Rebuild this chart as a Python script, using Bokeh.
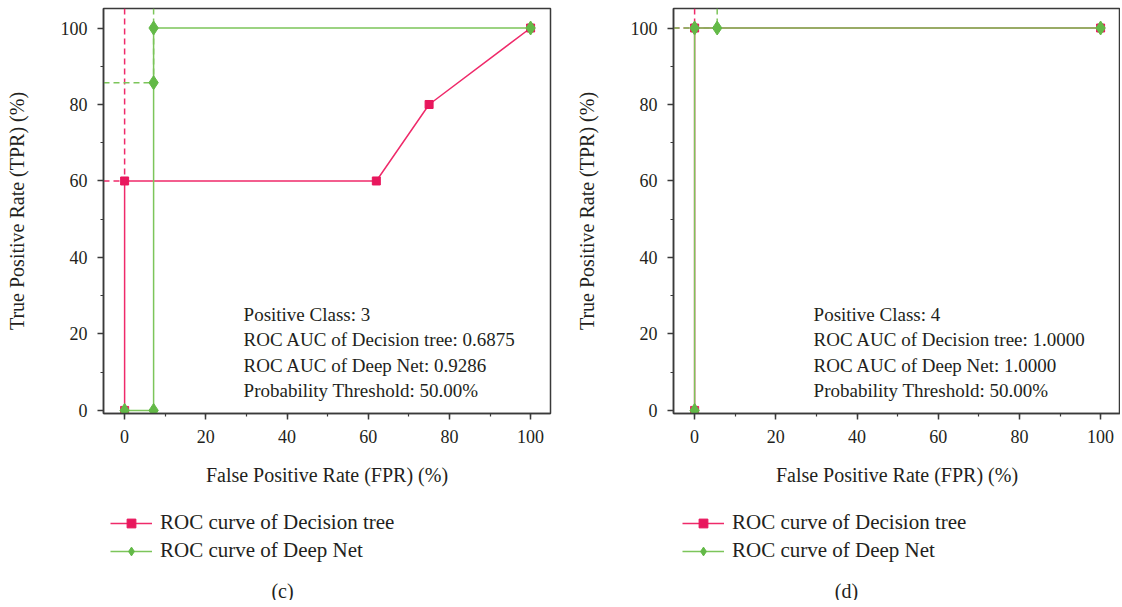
from bokeh.plotting import figure
from bokeh.layouts import row, column
from bokeh.models import Range1d, SingleIntervalTicker, Legend, LegendItem, Label
from bokeh.embed import file_html
from bokeh.resources import INLINE

# ---------------- data ----------------
# panel (c)
c_dt_fpr = [0, 0, 62, 75, 100]
c_dt_tpr = [0, 60, 60, 80, 100]
c_dn_fpr = [0, 7.14, 7.14, 7.14, 100]
c_dn_tpr = [0, 0, 85.71, 100, 100]
c_thr_dt = (0, 60)        # threshold point, Decision tree
c_thr_dn = (7.14, 85.71)  # threshold point, Deep Net
c_text = ["Positive Class: 3",
          "ROC AUC of Decision tree: 0.6875",
          "ROC AUC of Deep Net: 0.9286",
          "Probability Threshold: 50.00%"]

# panel (d)
d_dt_fpr = [0, 0, 100]
d_dt_tpr = [0, 100, 100]
d_dn_fpr = [0, 0, 5.56, 100]
d_dn_tpr = [0, 100, 100, 100]
d_thr_dt = (0, 100)
d_thr_dn = (5.56, 100)
d_text = ["Positive Class: 4",
          "ROC AUC of Decision tree: 1.0000",
          "ROC AUC of Deep Net: 1.0000",
          "Probability Threshold: 50.00%"]

x_label = "False Positive Rate (FPR) (%)"
y_label = "True Positive Rate (TPR) (%)"
legend_labels = ["ROC curve of Decision tree", "ROC curve of Deep Net"]

# ---------------- style ----------------
FONT = "Liberation Serif"
TXT = "#231f20"
AX = "#3a3a3a"
PINK = "#ef2a6a"
PINK_M = "#e8175d"
GREEN = "#7cc55a"
GREEN_M = "#63b947"
X0, X1 = -5.2, 104.9
Y0, Y1 = -0.8, 105.1
LW = 1.5


def line_kw(color):
    return dict(line_color=color, line_width=LW)


def make_panel(dt_fpr, dt_tpr, dn_fpr, dn_tpr, thr_dt, thr_dn, text, caption,
               width, border_left, border_right, legend_x, caption_x):
    p = figure(width=width, height=493, output_backend="svg", toolbar_location=None,
               x_range=Range1d(X0, X1), y_range=Range1d(Y0, Y1),
               min_border_left=border_left, min_border_right=border_right,
               min_border_top=8, min_border_bottom=80)
    p.grid.visible = False
    p.outline_line_color = AX
    p.outline_line_width = LW
    p.outline_line_alpha = 1

    for ax in (p.xaxis[0], p.yaxis[0]):
        ax.ticker = SingleIntervalTicker(interval=20, num_minor_ticks=2)
        ax.axis_line_color = AX
        ax.axis_line_width = LW
        ax.major_tick_line_color = AX
        ax.major_tick_line_width = LW
        ax.minor_tick_line_color = AX
        ax.minor_tick_line_width = 1.2
        ax.major_tick_in = 0
        ax.major_tick_out = 6
        ax.minor_tick_in = 0
        ax.minor_tick_out = 3
        ax.major_label_text_font = FONT
        ax.major_label_text_font_size = "18px"
        ax.major_label_text_color = TXT
        ax.axis_label_text_font = FONT
        ax.axis_label_text_font_size = "20px"
        ax.axis_label_text_font_style = "normal"
        ax.axis_label_text_color = TXT
    p.xaxis[0].axis_label = x_label
    p.yaxis[0].axis_label = y_label
    p.xaxis[0].major_label_standoff = 10
    p.xaxis[0].axis_label_standoff = 18
    p.yaxis[0].major_label_standoff = 10
    p.yaxis[0].axis_label_standoff = 30

    # threshold markers (dashed)
    p.segment(x0=[thr_dt[0]], y0=[Y1], x1=[thr_dt[0]], y1=[thr_dt[1]],
              line_dash="6 4", **line_kw(PINK))
    p.segment(x0=[X0], y0=[thr_dt[1]], x1=[thr_dt[0]], y1=[thr_dt[1]],
              line_dash="6 4", **line_kw(PINK))
    p.segment(x0=[thr_dn[0]], y0=[Y1], x1=[thr_dn[0]], y1=[thr_dn[1]],
              line_dash="6 4", **line_kw(GREEN))
    p.segment(x0=[X0], y0=[thr_dn[1]], x1=[thr_dn[0]], y1=[thr_dn[1]],
              line_dash="6 4", **line_kw(GREEN))

    p.line(dt_fpr, dt_tpr, **line_kw(PINK))
    p.scatter(dt_fpr, dt_tpr, marker="square", size=8, fill_color=PINK_M, line_color=PINK_M)
    p.line(dn_fpr, dn_tpr, **line_kw(GREEN))
    p.scatter(dn_fpr, dn_tpr, marker="diamond", size=14, fill_color=GREEN_M, line_color=GREEN_M)

    p.add_layout(Label(x=29.3, y=2.5, text="\n".join(text), text_font=FONT,
                       text_font_size="19px", text_color=TXT, text_line_height=1.2,
                       text_baseline="bottom", text_align="left"))

    # legend + caption strip below the plot (its frame aligns with the plot frame);
    # the series are drawn here too, but outside this strip's visible window,
    # only so that the legend has glyphs to show.
    q = figure(width=width, height=107, output_backend="svg", toolbar_location=None,
               x_range=Range1d(-1000, -999), y_range=Range1d(-1000, -999),
               x_axis_type=None, y_axis_type=None,
               min_border_left=border_left, min_border_right=border_right,
               min_border_top=0, min_border_bottom=0)
    q.grid.visible = False
    q.outline_line_color = None
    ql1 = q.line(dt_fpr, dt_tpr, **line_kw(PINK))
    qs1 = q.scatter(dt_fpr, dt_tpr, marker="square", size=8, fill_color=PINK_M, line_color=PINK_M)
    ql2 = q.line(dn_fpr, dn_tpr, **line_kw(GREEN))
    qs2 = q.scatter(dn_fpr, dn_tpr, marker="diamond", size=14, fill_color=GREEN_M, line_color=GREEN_M)
    legend = Legend(items=[LegendItem(label=legend_labels[0], renderers=[ql1, qs1]),
                           LegendItem(label=legend_labels[1], renderers=[ql2, qs2])],
                    location=(legend_x, 37), orientation="vertical",
                    border_line_alpha=0, background_fill_alpha=0,
                    label_text_font=FONT, label_text_font_size="21px", label_text_color=TXT,
                    glyph_width=42, glyph_height=22, label_standoff=8, spacing=3,
                    label_height=20, padding=0, margin=0)
    q.add_layout(legend, "center")
    q.add_layout(Label(x=caption_x, y=10, x_units="screen", y_units="screen",
                       text=caption, text_font=FONT, text_font_size="20px",
                       text_color=TXT, text_baseline="middle", text_align="center"))
    return column(p, q, spacing=0)


pc = make_panel(c_dt_fpr, c_dt_tpr, c_dn_fpr, c_dn_tpr, c_thr_dt, c_thr_dn, c_text, "(c)",
                width=565, border_left=103, border_right=15, legend_x=7, caption_x=179)
pd_ = make_panel(d_dt_fpr, d_dt_tpr, d_dn_fpr, d_dn_tpr, d_thr_dt, d_thr_dn, d_text, "(d)",
                 width=555, border_left=108, border_right=0, legend_x=9, caption_x=173)

layout = row(pc, pd_, spacing=0)
open("out.html", "w").write(file_html(layout, INLINE))
